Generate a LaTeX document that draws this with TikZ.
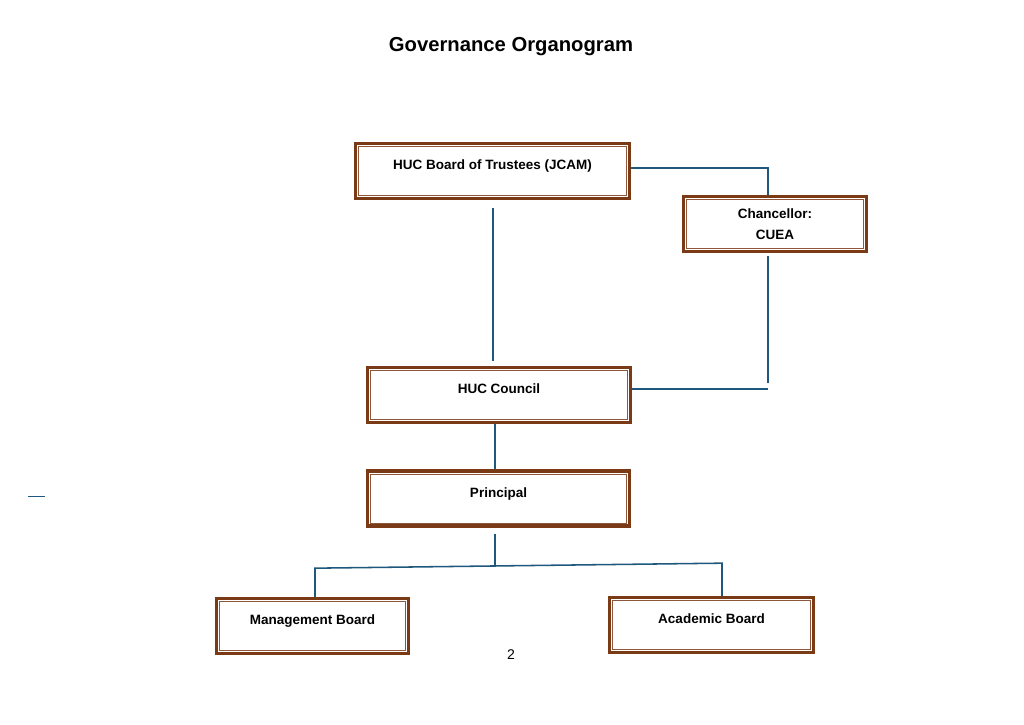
\documentclass[tikz,border=0pt]{standalone}
\usepackage{fontspec}
\setmainfont{Liberation Sans}
\usepackage{xcolor}
\usepackage{tikz}
\usetikzlibrary{positioning, calc}
\definecolor{boxbrown}{RGB}{122, 58, 22}
\definecolor{linkblue}{RGB}{30, 88, 124}

\begin{document}
\begin{tikzpicture}[
    x=0.025cm, y=-0.025cm,
    orgbox/.style={draw=boxbrown, line width=2.6pt, fill=white, inner sep=0pt, align=center,
        text height=0.65cm, text depth=0.72cm, font=\bfseries\fontsize{9.6}{15}\selectfont},
    link/.style={draw=linkblue, line width=1.1pt}
]
    \useasboundingbox (0,0) rectangle (1024,724);

    \node[font=\bfseries\fontsize{14.4}{16}\selectfont] (title) at (511,47) {Governance Organogram};

    \node[orgbox, minimum width=6.85cm] (trustees) at (492.5,171) {HUC Board of Trustees (JCAM)};
    \node[orgbox, minimum width=4.58cm, minimum height=1.37cm, text height=, text depth=] (chancellor) at (775,224) {Chancellor:\\CUEA};
    \node[orgbox, minimum width=6.58cm] (council) at (499,395) {HUC Council};
    \node[orgbox, minimum width=6.55cm] (principal) at (498.5,498.5) {Principal};
    \node[orgbox, minimum width=4.8cm] (mgmt) at (312.5,626) {Management Board};
    \node[orgbox, minimum width=5.1cm] (acad) at (711.5,625) {Academic Board};

    \foreach \n in {trustees, chancellor, council, principal, mgmt, acad}
        \draw[boxbrown!85, line width=0.55pt] ($(\n.south west)+(3.4pt,3.4pt)$) rectangle ($(\n.north east)+(-3.4pt,-3.4pt)$);

    \coordinate (chbend) at (768,383);
    \coordinate (cojoin) at (768,389);
    \coordinate (fork) at (495,567);

    \draw[link] ($(trustees.east)+(0,-3)$) -| ($(chancellor.north)+(-7,0)$);
    \draw[link] ($(trustees.south)+(0.5,8)$) -- ($(trustees.south |- council.north)+(0.5,-5)$);
    \draw[link] ($(chancellor.south)+(-7,3)$) -- (chbend);
    \draw[link] ($(council.east)+(0,-6)$) -- (cojoin);
    \draw[link] ($(council.south)+(-4,0)$) -- ($(principal.north)+(-3.5,0)$);
    \draw[link] ($(principal.south)+(-3.5,6)$) -- (fork);
    \draw[link] ($(mgmt.north)+(2.5,0)$) -- ++(0,-28.6) -- ($(acad.north)+(10.5,-32.6)$) -- ($(acad.north)+(10.5,0)$);

    \draw[linkblue, line width=0.6pt] (28,496) -- (45,496);

    \node[font=\fontsize{10}{12}\selectfont] (pagenum) at (511,655) {2};
\end{tikzpicture}
\end{document}
